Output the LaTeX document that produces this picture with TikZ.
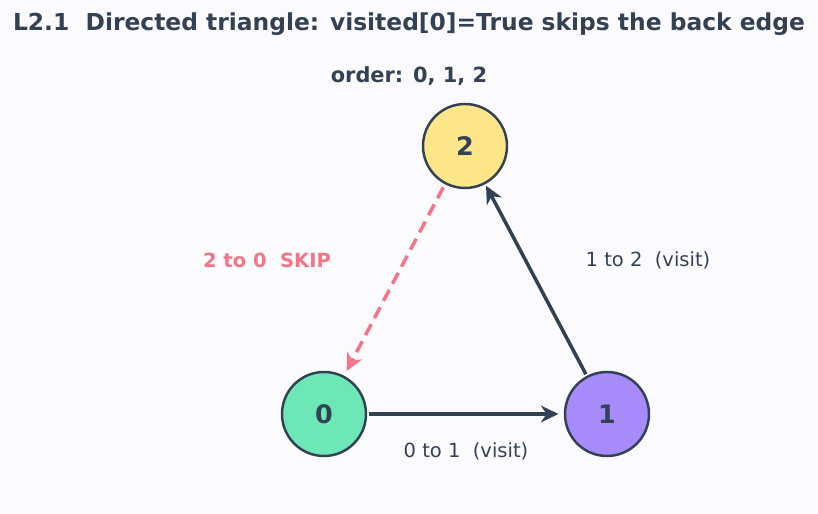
\documentclass[tikz,border=0pt]{standalone}
\usepackage{fontspec}
\setmainfont{DejaVu Sans}
\usepackage{xcolor}
\usepackage{tikz}
\usetikzlibrary{arrows.meta,positioning}
\definecolor{slateink}{HTML}{334155}
\definecolor{bgpaper}{HTML}{FBFBFE}
\definecolor{nodegreen}{HTML}{6EE7B7}
\definecolor{nodeviolet}{HTML}{A78BFA}
\definecolor{nodeamber}{HTML}{FDE68A}
\definecolor{skippink}{HTML}{F47589}

\begin{document}
\begin{tikzpicture}[font=\fontsize{11.1}{13}\selectfont,
  vert/.style={circle,draw=slateink,line width=1.4pt,minimum size=1.68cm,inner sep=0pt,text=slateink,font=\fontsize{14.5}{16}\selectfont\bfseries},
  edge/.style={draw=slateink,line width=2pt,-{Stealth[length=10pt,width=9.5pt]}},
  skipedge/.style={draw=skippink,line width=2pt,dash pattern=on 7pt off 4pt,-{Stealth[length=10pt,width=9.5pt]}}]
  \fill[bgpaper] (0,0) rectangle (16.36,10.28);
  \useasboundingbox (0,0) rectangle (16.36,10.28);
  % titles
  \node[text=slateink,font=\fontsize{13.3}{15}\selectfont\bfseries] (title) at (8.18,9.80) {L2.1\ \ Directed triangle: visited[0]=True skips the back edge};
  \node[text=slateink,font=\fontsize{11.9}{14}\selectfont\bfseries] (order) at (8.18,8.76) {order: 0, 1, 2};
  % vertices
  \node[vert,fill=nodegreen] (v0) at (6.48,2.0) {0};
  \node[vert,fill=nodeviolet] (v1) at (12.14,2.0) {1};
  \node[vert,fill=nodeamber] (v2) at (9.30,7.36) {2};
  % edges
  \draw[edge,shorten <=1pt,shorten >=3pt] (v0) -- (v1);
  \draw[edge,shorten <=1pt,shorten >=1pt] (v1) -- (v2);
  \draw[skipedge,shorten <=2pt,shorten >=3pt] (v2) -- (v0);
  % edge labels
  \node[text=slateink] (l01) at (9.32,1.26) {0 to 1\ \ (visit)};
  \node[text=slateink] (l12) at (12.96,5.08) {1 to 2\ \ (visit)};
  \node[text=skippink,font=\fontsize{11.1}{13}\selectfont\bfseries] (l20) at (5.34,5.08) {2 to 0\ \ SKIP};
\end{tikzpicture}
\end{document}
